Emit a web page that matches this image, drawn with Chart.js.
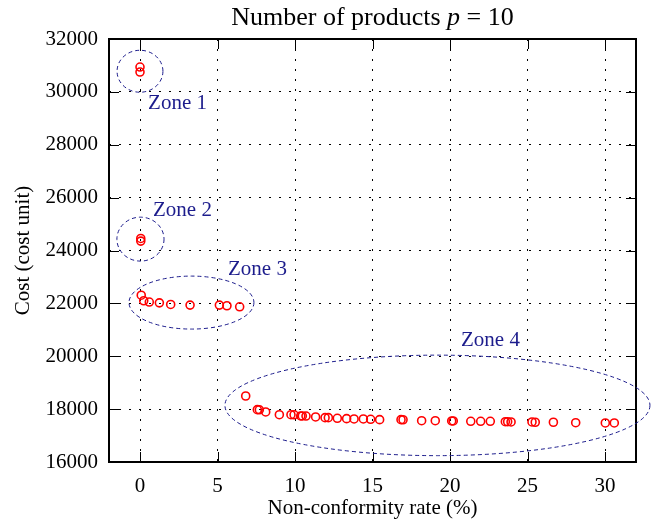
<!DOCTYPE html>
<html>
<head>
<meta charset="utf-8">
<script src="https://cdn.jsdelivr.net/npm/chart.js@4/dist/chart.umd.min.js"></script>
<style>
html,body{margin:0;padding:0;background:#fff;}
#wrap{width:660px;height:523px;position:relative;}
</style>
</head>
<body>
<div id="wrap"><canvas id="c" width="660" height="523"></canvas></div>
<script>
// ---- data ----
const chartTitle = ["Number of products ", "p", " = 10"];
const xAxisTitle = "Non-conformity rate (%)";
const yAxisTitle = "Cost (cost unit)";
const xTickValues = [0, 5, 10, 15, 20, 25, 30];
const yTickValues = [16000, 18000, 20000, 22000, 24000, 26000, 28000, 30000, 32000];
const rateValues = [
  0, 0,
  0.05, 0.05,
  0.08, 0.24, 0.6, 1.25, 1.98, 3.23, 5.12, 5.61, 6.43,
  6.82, 7.57, 7.7, 8.11, 8.99, 9.74, 9.94, 10.37, 10.47, 10.71, 11.33, 11.94, 12.15, 12.73,
  13.33, 13.81, 14.41, 14.88, 15.46, 16.84, 16.97, 18.17, 19.05, 20.11, 20.21, 21.34, 21.98,
  22.6, 23.57, 23.72, 23.94, 25.29, 25.5, 26.67, 28.11, 30.02, 30.6
];
const costValues = [
  30940, 30750,
  24455, 24355,
  22310, 22100, 22050, 22020, 21960, 21935, 21935, 21910, 21870,
  18497, 17980, 17975, 17892, 17790, 17790, 17785, 17741, 17741, 17738, 17703, 17677, 17677, 17654,
  17639, 17628, 17628, 17616, 17601, 17601, 17598, 17563, 17563, 17552, 17552, 17540, 17540,
  17540, 17525, 17525, 17514, 17514, 17503, 17503, 17487, 17476, 17476
];
const zoneNames = ["Zone 1", "Zone 2", "Zone 3", "Zone 4"];
const zoneCenterX = [0, 0.03, 3.32, 19.19];
const zoneCenterY = [30780, 24430, 22030, 18141];
const zoneRadiusX = [1.48, 1.52, 4.03, 13.71];
const zoneRadiusY = [794, 831, 1002, 1901];
const zoneLabelX = [0.52, 0.84, 5.68, 20.71];
const zoneLabelY = [29570, 25526, 23278, 20613];

// ---- styles ----
const SERIF = "'Liberation Serif', 'DejaVu Serif', serif";
const NAVY = "#1c1c8c";

const points = rateValues.map((x, i) => ({x: x, y: costValues[i]}));

const decorPlugin = {
  id: 'decor',
  afterDatasetsDraw(chart) {
    const ctx = chart.ctx;
    const a = chart.chartArea;
    const xs = chart.scales.x, ys = chart.scales.y;
    ctx.save();
    // inward tick marks
    ctx.strokeStyle = '#000';
    ctx.lineWidth = 1;
    const tl = 10;
    xTickValues.forEach(v => {
      const px = Math.round(xs.getPixelForValue(v)) + 0.5;
      ctx.beginPath();
      ctx.moveTo(px, a.bottom); ctx.lineTo(px, a.bottom - tl);
      ctx.moveTo(px, a.top); ctx.lineTo(px, a.top + tl);
      ctx.stroke();
    });
    yTickValues.forEach(v => {
      const py = Math.round(ys.getPixelForValue(v)) + 0.5;
      ctx.beginPath();
      ctx.moveTo(a.left, py); ctx.lineTo(a.left + tl, py);
      ctx.moveTo(a.right, py); ctx.lineTo(a.right - tl, py);
      ctx.stroke();
    });
    // frame
    ctx.lineWidth = 2;
    ctx.strokeRect(a.left, a.top, a.right - a.left, a.bottom - a.top);
    // zone ellipses
    ctx.strokeStyle = NAVY;
    ctx.lineWidth = 1;
    ctx.setLineDash([4, 3]);
    zoneNames.forEach((n, i) => {
      const cx = xs.getPixelForValue(zoneCenterX[i]);
      const cy = ys.getPixelForValue(zoneCenterY[i]);
      const rx = Math.abs(xs.getPixelForValue(zoneCenterX[i] + zoneRadiusX[i]) - cx);
      const ry = Math.abs(ys.getPixelForValue(zoneCenterY[i] + zoneRadiusY[i]) - cy);
      ctx.beginPath();
      ctx.ellipse(cx, cy, rx, ry, 0, 0, Math.PI * 2);
      ctx.stroke();
    });
    ctx.setLineDash([]);
    // zone labels
    ctx.fillStyle = NAVY;
    ctx.font = "21px " + SERIF;
    ctx.textAlign = 'left';
    ctx.textBaseline = 'middle';
    zoneNames.forEach((n, i) => {
      ctx.fillText(n, xs.getPixelForValue(zoneLabelX[i]), ys.getPixelForValue(zoneLabelY[i]));
    });
    // title
    ctx.fillStyle = '#000';
    ctx.textBaseline = 'middle';
    const fN = "26px " + SERIF, fI = "italic 26px " + SERIF;
    ctx.font = fN; const w0 = ctx.measureText(chartTitle[0]).width;
    ctx.font = fI; const w1 = ctx.measureText(chartTitle[1]).width;
    ctx.font = fN; const w2 = ctx.measureText(chartTitle[2]).width;
    let tx = (a.left + a.right) / 2 - (w0 + w1 + w2) / 2;
    const ty = 18;
    ctx.textAlign = 'left';
    ctx.font = fN; ctx.fillText(chartTitle[0], tx, ty); tx += w0;
    ctx.font = fI; ctx.fillText(chartTitle[1], tx, ty); tx += w1;
    ctx.font = fN; ctx.fillText(chartTitle[2], tx, ty);
    // axis titles
    ctx.font = "21px " + SERIF;
    ctx.textAlign = 'center';
    ctx.fillText(xAxisTitle, (a.left + a.right) / 2, 508);
    ctx.save();
    ctx.translate(23, (a.top + a.bottom) / 2);
    ctx.rotate(-Math.PI / 2);
    ctx.fillText(yAxisTitle, 0, 0);
    ctx.restore();
    ctx.restore();
  }
};

new Chart(document.getElementById('c'), {
  type: 'scatter',
  data: {
    datasets: [{
      data: points,
      pointStyle: 'circle',
      pointRadius: 4,
      pointHoverRadius: 4,
      borderColor: '#ff0000',
      backgroundColor: 'rgba(0,0,0,0)',
      pointBorderWidth: 1.6,
      showLine: false
    }]
  },
  options: {
    responsive: false,
    animation: false,
    events: [],
    layout: {padding: {top: 39, right: 24, left: 0, bottom: 0}},
    plugins: {legend: {display: false}, title: {display: false}, tooltip: {enabled: false}},
    scales: {
      x: {
        type: 'linear', min: -2, max: 32,
        afterBuildTicks: s => { s.ticks = xTickValues.map(v => ({value: v})); },
        afterFit: s => { s.height = 61; },
        ticks: {font: {family: SERIF, size: 21}, color: '#000', padding: 12, maxRotation: 0},
        grid: {color: '#000', lineWidth: 1, drawTicks: false},
        border: {display: false, dash: [2, 8]}
      },
      y: {
        type: 'linear', min: 16000, max: 32000,
        afterBuildTicks: s => { s.ticks = yTickValues.map(v => ({value: v})); },
        afterFit: s => { s.width = 109; },
        ticks: {font: {family: SERIF, size: 21}, color: '#000', padding: 11, callback: v => String(v)},
        grid: {color: '#000', lineWidth: 1, drawTicks: false},
        border: {display: false, dash: [2, 8]}
      }
    }
  },
  plugins: [decorPlugin]
});
</script>
</body>
</html>
